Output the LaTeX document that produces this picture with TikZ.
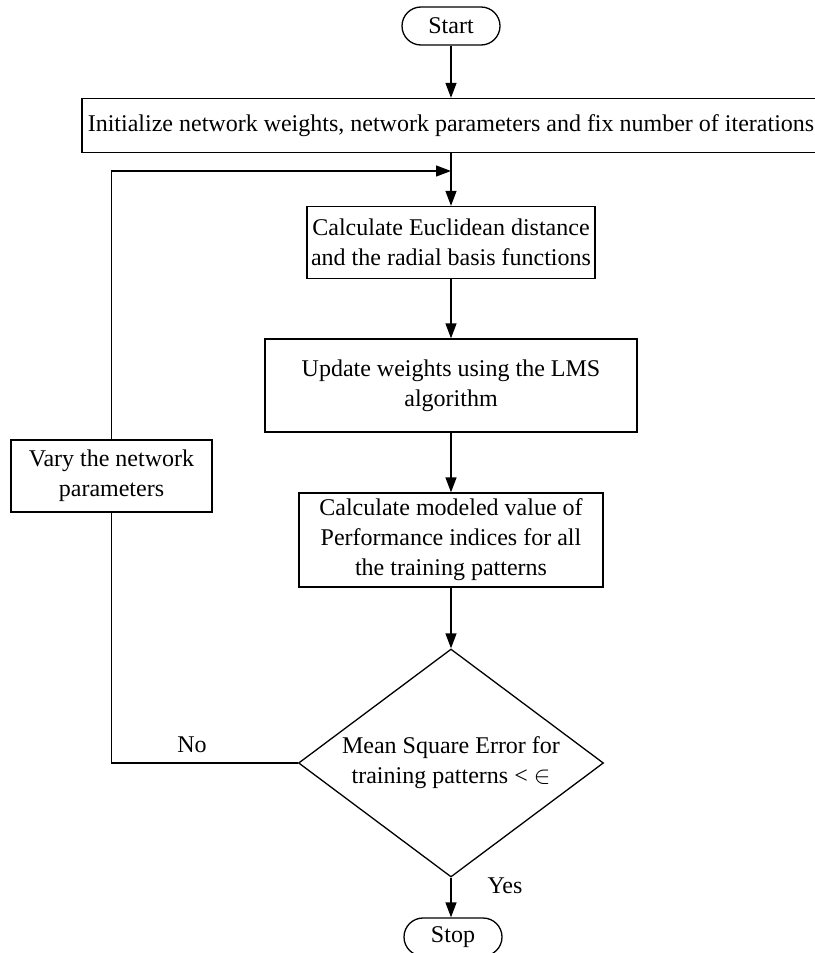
\documentclass[tikz,border=0pt]{standalone}
\usepackage{fontspec}
\setmainfont{Liberation Serif}
\usetikzlibrary{shapes.geometric,arrows.meta}
\begin{document}
\begin{tikzpicture}[x=1pt,y=-1pt,
  every node/.style={font=\fontsize{24}{30}\selectfont, align=center, inner sep=0pt},
  procbox/.style={draw, line width=1.3pt, rectangle},
  terminal/.style={draw, line width=1.3pt, rectangle, rounded corners=19pt, minimum width=98pt, minimum height=38pt},
  decision/.style={draw, line width=1.3pt, diamond, aspect=1.338, minimum width=305pt, minimum height=228pt},
  flow/.style={line width=1.3pt, -{Triangle[length=15pt,width=11pt]}},
  link/.style={line width=1.3pt}]
\useasboundingbox (0,0) rectangle (814,953);

% terminals
\node[terminal] (start) at (451,26) {Start};
\node[terminal] (stop) at (453,937) {Stop};

% process steps
\node[procbox, minimum width=738pt, minimum height=54pt] (init) at (451,125.5)
  {Initialize network weights, network parameters and fix number of iterations};
\node[procbox, minimum width=288pt, minimum height=72pt] (dist) at (451,242.5)
  {Calculate Euclidean distance\\and the radial basis functions};
\node[procbox, minimum width=372pt, minimum height=93pt] (lms) at (451,385.5)
  {Update weights using the LMS\\algorithm};
\node[procbox, minimum width=304pt, minimum height=94pt] (model) at (451,540)
  {Calculate modeled value of\\Performance indices for all\\the training patterns};
\node[decision] (mse) at (451,763)
  {Mean Square Error for\\training patterns < $\in$};
\node[procbox, minimum width=201pt, minimum height=72pt] (vary) at (111.5,476)
  {Vary the network\\parameters};

% feedback corners
\coordinate (loopin) at (451,171);
\coordinate (looptop) at (vary.north |- loopin);
\coordinate (nocorner) at (vary.south |- mse.west);

% main flow
\draw[flow] (start) -- (init);
\draw[flow] (init) -- (dist);
\draw[flow] (dist) -- (lms);
\draw[flow] (lms) -- (model);
\draw[flow] (model) -- (mse);
\draw[flow] (mse) -- (stop.north -| mse.south);

% retry loop
\draw[link] (mse.west) -- (nocorner) -- (vary.south);
\draw[flow] (vary.north) -- (looptop) -- (loopin);

% branch labels
\node (nolbl) at (192,745) {No};
\node (yeslbl) at (505,886) {Yes};
\end{tikzpicture}
\end{document}
